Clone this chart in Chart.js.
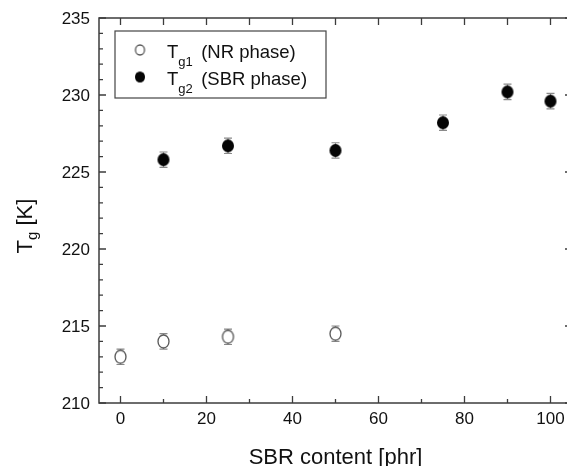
<!DOCTYPE html>
<html>
<head>
<meta charset="utf-8">
<script src="https://cdn.jsdelivr.net/npm/chart.js@4.4.0/dist/chart.umd.min.js"></script>
<style>
  html, body { margin: 0; padding: 0; background: #fff; overflow: hidden; }
  #wrap { width: 567px; height: 466px; overflow: hidden; }
</style>
</head>
<body>
<div id="wrap"><canvas id="tg-chart" width="580" height="466"></canvas></div>
<script>
// data
const sbrNR = [0, 10, 25, 50];
const tg1 = [213.0, 214.0, 214.3, 214.5];
const tg1Err = [0.5, 0.5, 0.5, 0.5];

const sbrSBR = [10, 25, 50, 75, 90, 100];
const tg2 = [225.8, 226.7, 226.4, 228.2, 230.2, 229.6];
const tg2Err = [0.5, 0.5, 0.5, 0.5, 0.5, 0.5];

const xTicks = [0, 20, 40, 60, 80, 100];
const yTicks = [210, 215, 220, 225, 230, 235];

const FONT = '"Liberation Sans", Arial, sans-serif';
const AXIS = '#3c3c3c';

// marker images (slightly taller than wide, like the scan)
function marker(filled, w, h) {
  const c = document.createElement('canvas');
  c.width = w + 4; c.height = h + 4;
  const g = c.getContext('2d');
  g.beginPath();
  g.ellipse(c.width / 2, c.height / 2, w / 2, h / 2, 0, 0, Math.PI * 2);
  if (filled) {
    g.fillStyle = '#050505';
    g.fill();
  } else {
    g.fillStyle = '#fff';
    g.fill();
    g.lineWidth = 1.3;
    g.strokeStyle = '#555';
    g.stroke();
  }
  return c;
}
const openDot = marker(false, 11, 13);
const fullDot = marker(true, 12, 13);

// error bars drawn under the markers
const errorBars = {
  id: 'errorBars',
  beforeDatasetsDraw(chart) {
    const ctx = chart.ctx;
    const y = chart.scales.y;
    const errs = [tg1Err, tg2Err];
    ctx.save();
    ctx.strokeStyle = '#8a8a8a';
    ctx.lineWidth = 1.2;
    chart.data.datasets.forEach((ds, i) => {
      const meta = chart.getDatasetMeta(i);
      meta.data.forEach((pt, j) => {
        const v = ds.data[j].y;
        const yt = y.getPixelForValue(v + errs[i][j]);
        const yb = y.getPixelForValue(v - errs[i][j]);
        ctx.beginPath();
        ctx.moveTo(pt.x, yt); ctx.lineTo(pt.x, yb);
        ctx.moveTo(pt.x - 4, yt); ctx.lineTo(pt.x + 4, yt);
        ctx.moveTo(pt.x - 4, yb); ctx.lineTo(pt.x + 4, yb);
        ctx.stroke();
      });
    });
    ctx.restore();
  }
};

// frame, inward ticks, labels, titles, legend
const frame = {
  id: 'frame',
  afterDraw(chart) {
    const ctx = chart.ctx;
    const a = chart.chartArea;
    const xs = chart.scales.x, ys = chart.scales.y;
    ctx.save();
    ctx.strokeStyle = AXIS;
    ctx.lineWidth = 1.5;
    ctx.strokeRect(a.left, a.top, a.right - a.left, a.bottom - a.top);

    ctx.lineWidth = 1.3;
    ctx.beginPath();
    for (let v = 0; v <= 100; v += 10) {
      const px = xs.getPixelForValue(v);
      const major = v % 20 === 0;
      ctx.moveTo(px, a.bottom); ctx.lineTo(px, a.bottom - (major ? 7 : 4));
      ctx.moveTo(px, a.top); ctx.lineTo(px, a.top + 7);
    }
    for (let v = 210; v <= 235; v += 1) {
      const py = ys.getPixelForValue(v);
      const major = v % 5 === 0;
      ctx.moveTo(a.left, py); ctx.lineTo(a.left + (major ? 7 : 4), py);
      if (major) { ctx.moveTo(a.right, py); ctx.lineTo(a.right - 7, py); }
    }
    ctx.stroke();

    ctx.fillStyle = '#111';
    ctx.font = '17px ' + FONT;
    ctx.textAlign = 'right';
    ctx.textBaseline = 'middle';
    yTicks.forEach(v => ctx.fillText(String(v), a.left - 9, ys.getPixelForValue(v) + 1));
    ctx.textAlign = 'center';
    ctx.textBaseline = 'top';
    xTicks.forEach(v => ctx.fillText(String(v), xs.getPixelForValue(v), a.bottom + 8));

    // x title
    ctx.font = '22px ' + FONT;
    ctx.textBaseline = 'alphabetic';
    ctx.fillText('SBR content [phr]', (a.left + a.right) / 2, 464);

    // y title: T_g [K]
    ctx.save();
    ctx.translate(32, 226);
    ctx.rotate(-Math.PI / 2);
    ctx.textAlign = 'left';
    const wT = ctx.measureText('T').width;
    ctx.font = '15px ' + FONT;
    const wg = ctx.measureText('g').width;
    ctx.font = '22px ' + FONT;
    const wK = ctx.measureText(' [K]').width;
    let x0 = -(wT + wg + wK) / 2;
    ctx.fillText('T', x0, 0);
    ctx.font = '15px ' + FONT;
    ctx.fillText('g', x0 + wT, 5);
    ctx.font = '22px ' + FONT;
    ctx.fillText(' [K]', x0 + wT + wg, 0);
    ctx.restore();

    // legend
    const lx = 115, ly = 31, lw = 211, lh = 67;
    ctx.fillStyle = '#fff';
    ctx.fillRect(lx, ly, lw, lh);
    ctx.strokeStyle = '#444';
    ctx.lineWidth = 1.2;
    ctx.strokeRect(lx, ly, lw, lh);
    const rows = [
      { img: marker(false, 9, 10), sub: 'g1', label: ' (NR phase)', y: 58 },
      { img: marker(true, 10, 11), sub: 'g2', label: ' (SBR phase)', y: 85 }
    ];
    ctx.fillStyle = '#111';
    ctx.textAlign = 'left';
    rows.forEach(r => {
      ctx.drawImage(r.img, 140 - r.img.width / 2, r.y - 8 - r.img.height / 2);
      ctx.font = '18.5px ' + FONT;
      ctx.fillText('T', 167, r.y);
      const t = ctx.measureText('T').width;
      ctx.font = '13px ' + FONT;
      ctx.fillText(r.sub, 167 + t, r.y + 8);
      ctx.font = '18.5px ' + FONT;
      ctx.fillText(r.label, 196, r.y);
    });
    ctx.restore();
  }
};

new Chart(document.getElementById('tg-chart'), {
  type: 'scatter',
  data: {
    datasets: [
      {
        label: 'Tg1 (NR phase)',
        data: sbrNR.map((x, i) => ({ x: x, y: tg1[i] })),
        pointStyle: openDot,
        pointRadius: 6
      },
      {
        label: 'Tg2 (SBR phase)',
        data: sbrSBR.map((x, i) => ({ x: x, y: tg2[i] })),
        pointStyle: fullDot,
        pointRadius: 6
      }
    ]
  },
  options: {
    responsive: false,
    animation: false,
    devicePixelRatio: 1,
    layout: { padding: { left: 99, top: 18, right: 8, bottom: 63 } },
    plugins: { legend: { display: false }, tooltip: { enabled: false } },
    scales: {
      x: { type: 'linear', min: -5, max: 105, display: false },
      y: { type: 'linear', min: 210, max: 235, display: false }
    }
  },
  plugins: [errorBars, frame]
});
</script>
</body>
</html>
